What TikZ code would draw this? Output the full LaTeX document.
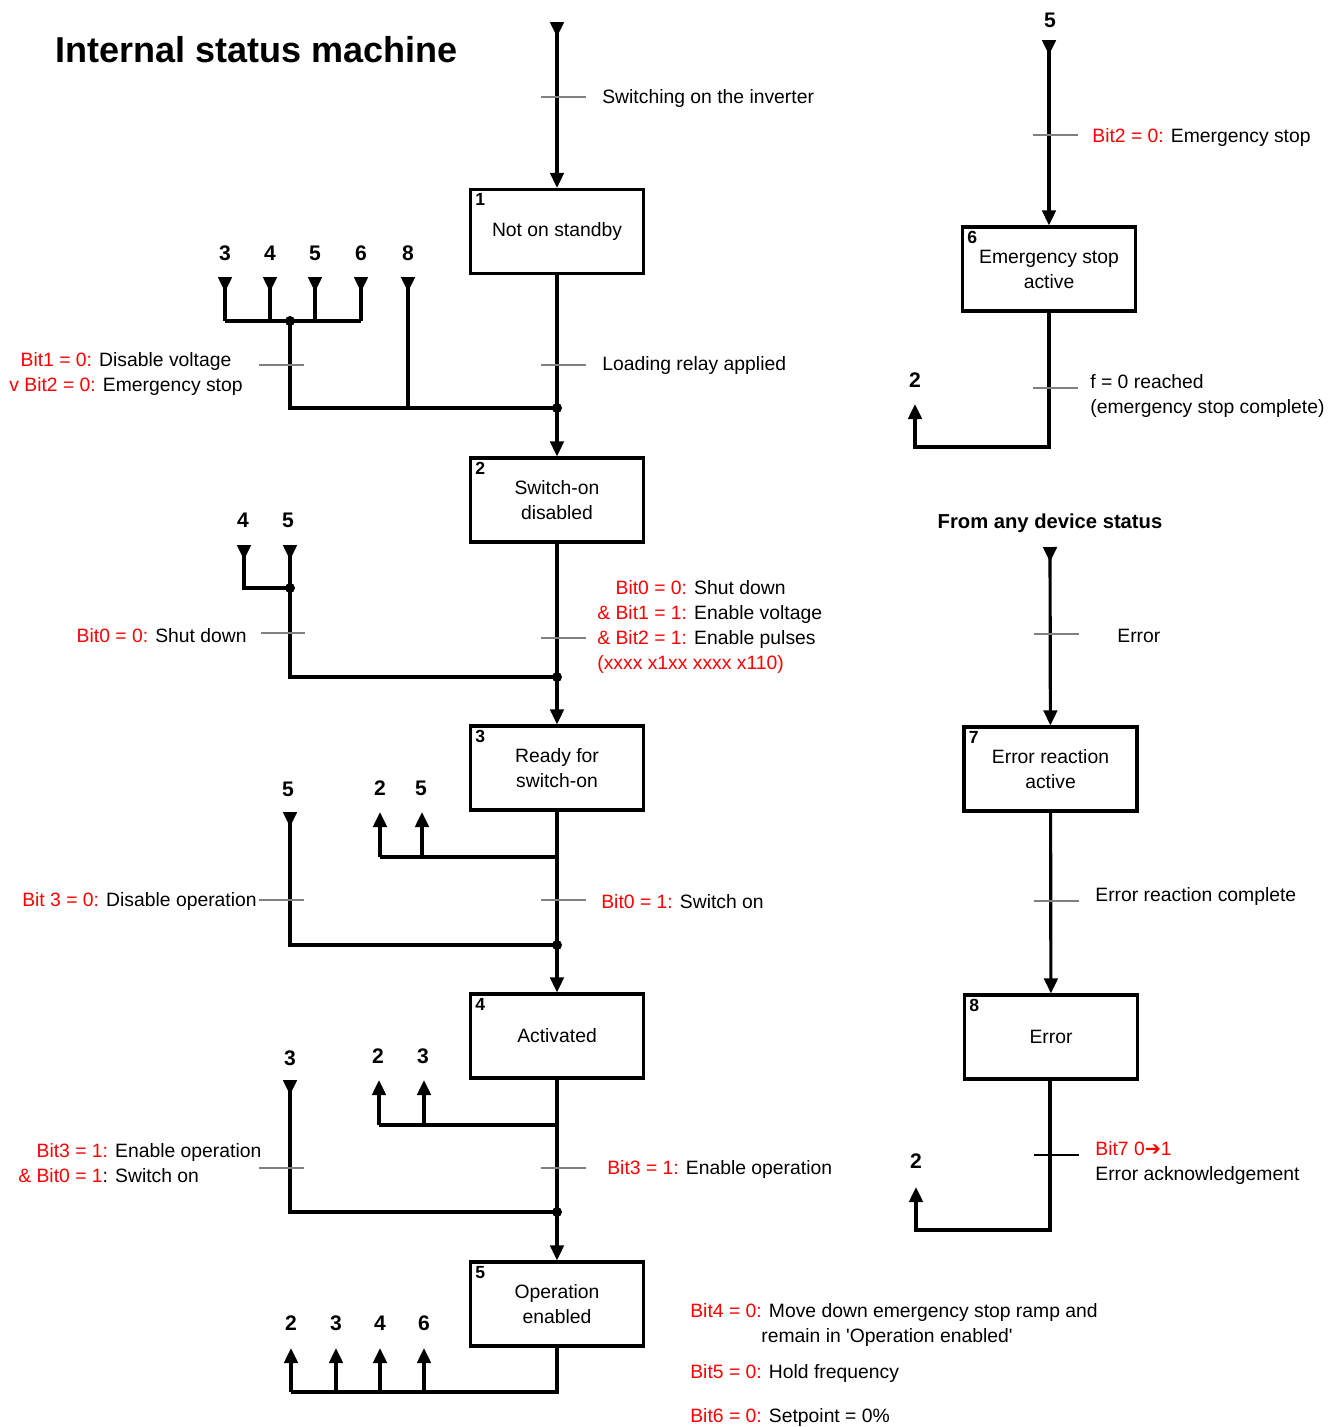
\documentclass[tikz,border=0pt]{standalone}
\usepackage{fontspec}
\setmainfont{Liberation Sans}
\newfontfamily\dejavu{DejaVu Sans}
\usetikzlibrary{arrows.meta}
\definecolor{rd}{RGB}{255,0,0}
\newcommand{\rt}[1]{\textcolor{rd}{#1}}
\begin{document}
\begin{tikzpicture}[x=0.02cm,y=-0.02cm,
  font=\fontsize{11}{14.2}\selectfont,
  ln/.style={line width=1.8pt},
  tipin/.style={ln,{Triangle[reversed,length=0.3cm,width=0.27cm]}-},
  tipout/.style={ln,-{Triangle[length=0.3cm,width=0.27cm]}},
  tipboth/.style={ln,{Triangle[reversed,length=0.3cm,width=0.27cm]}-{Triangle[length=0.3cm,width=0.27cm]}},
  state/.style={draw,line width=1.8pt,minimum width=3.46cm,minimum height=1.68cm,align=center,inner sep=2pt,
    label={[anchor=north west,inner sep=3pt,xshift=0.5pt,font=\fontsize{10}{11}\bfseries\selectfont]north west:#1}},
  bar/.style={gray,line width=0.6pt},
  num/.style={font=\fontsize{12}{14}\bfseries\selectfont,inner sep=0pt},
  dot/.style={circle,fill,inner sep=0pt,minimum size=0.2cm},
  lbl/.style={anchor=west,align=left,inner sep=0pt,yshift=-1pt},
  lbr/.style={anchor=east,align=right,inner sep=0pt,yshift=-1pt}]
\useasboundingbox (0,0) rectangle (1340,1427);

% title
\node[anchor=west,inner sep=0pt,font=\fontsize{20.5}{24}\bfseries\selectfont] (title) at (55,50) {Internal status machine};

% states
\node[state=1] (s1) at (557,231.5) {Not on standby};
\node[state=2] (s2) at (557,500) {Switch-on\\disabled};
\node[state=3] (s3) at (557,768) {Ready for\\switch-on};
\node[state=4] (s4) at (557,1036) {Activated};
\node[state=5] (s5) at (557,1304) {Operation\\enabled};
\node[state=6] (s6) at (1049,269) {Emergency stop\\active};
\node[state=7] (s7) at (1050.5,769) {Error reaction\\active};
\node[state=8] (s8) at (1051,1037) {Error};

% main vertical chain
\coordinate (top) at (557,22);
\draw[tipboth] (top) -- (s1);
\draw[tipout] (s1) -- (s2);
\draw[tipout] (s2) -- (s3);
\draw[tipout] (s3) -- (s4);
\draw[tipout] (s4) -- (s5);

% junction dots on the main line
\node[dot] (j1) at (557,408) {};
\node[dot] (j2) at (557,677) {};
\node[dot] (j3) at (557,945) {};
\node[dot] (j4) at (557,1212) {};

% transition bars, main line
\draw[bar] (541,97) -- (586,97);
\draw[bar] (541,365) -- (586,365);
\draw[bar] (541,638) -- (586,638);
\draw[bar] (541,900) -- (586,900);
\draw[bar] (541,1168) -- (586,1168);

% ---- branch into state 2 (from 3,4,5,6,8)
\node[num] (n3a) at (225,253) {3};
\node[num] (n4a) at (270,253) {4};
\node[num] (n5a) at (315,253) {5};
\node[num] (n6a) at (361,253) {6};
\node[num] (n8a) at (408,253) {8};
\coordinate (a3) at (225,277); \coordinate (a4) at (270,277);
\coordinate (a5) at (315,277); \coordinate (a6) at (361,277);
\coordinate (a8) at (408,277);
\coordinate (h1l) at (225,321); \coordinate (h1r) at (361,321);
\node[dot] (d1) at (290,321) {};
\draw[ln] (h1l) -- (h1r);
\draw[tipin] (a3) -- (h1l);
\draw[tipin] (a4) -- (270,321);
\draw[tipin] (a5) -- (315,321);
\draw[tipin] (a6) -- (h1r);
\draw[ln] (d1.center) -- (290,408) -- (j1.center);
\draw[tipin] (a8) -- (408,408);
\draw[bar] (259,365) -- (304,365);

% ---- branch into state 3 (from 4,5)
\node[num] (n4b) at (243,520) {4};
\node[num] (n5b) at (288,520) {5};
\coordinate (b4) at (244,545); \coordinate (b5) at (290,545);
\node[dot] (d2) at (290,588) {};
\draw[tipin] (b4) -- (244,588) -- (d2.center);
\draw[tipin] (b5) -- (290,677) -- (j2.center);
\draw[bar] (261,633) -- (305,633);

% ---- state 3 outgoing to 2,5
\coordinate (o3) at (557,857);
\draw[ln] (o3) -- (380,857);
\draw[tipout] (380,857) -- (380,812);
\draw[tipout] (422,857) -- (422,812);
\node[num] (n2c) at (380,788) {2};
\node[num] (n5c) at (421,788) {5};
% branch into state 4 from 5
\node[num] (n5d) at (288,789) {5};
\coordinate (c5) at (290,812);
\draw[tipin] (c5) -- (290,945) -- (j3.center);
\draw[bar] (259,900) -- (304,900);

% ---- state 4 outgoing to 2,3
\coordinate (o4) at (557,1125);
\draw[ln] (o4) -- (379,1125);
\draw[tipout] (379,1125) -- (379,1080);
\draw[tipout] (424,1125) -- (424,1080);
\node[num] (n2e) at (378,1056) {2};
\node[num] (n3e) at (423,1056) {3};
% branch into state 5 from 3
\node[num] (n3f) at (290,1058) {3};
\coordinate (f3) at (290,1080);
\draw[tipin] (f3) -- (290,1212) -- (j4.center);
\draw[bar] (259,1168) -- (304,1168);

% ---- state 5 outgoing to 2,3,4,6
\coordinate (o5) at (557,1392);
\draw[ln] (s5) -- (o5) -- (291,1392);
\draw[tipout] (291,1392) -- (291,1348);
\draw[tipout] (336,1392) -- (336,1348);
\draw[tipout] (380,1392) -- (380,1348);
\draw[tipout] (424,1392) -- (424,1348);
\node[num] (n2g) at (291,1323) {2};
\node[num] (n3g) at (336,1323) {3};
\node[num] (n4g) at (380,1323) {4};
\node[num] (n6g) at (424,1323) {6};

% ---- labels left column
\node[lbl] (l1) at (602,97) {Switching on the inverter};
\node[lbl] (l2) at (602,364) {Loading relay applied};
\node[align=center,inner sep=0pt,yshift=-1pt] (l3) at (126,372) {\rt{Bit1 = 0:} Disable voltage\\ \rt{v Bit2 = 0:} Emergency stop};
\node[lbl] (l4) at (597,625.5) {\hphantom{\& }\rt{Bit0 = 0:} Shut down\\ \rt{\& Bit1 = 1:} Enable voltage\\ \rt{\& Bit2 = 1:} Enable pulses\\ \rt{(xxxx x1xx xxxx x110)}};
\node[lbr] (l5) at (247,634) {\rt{Bit0 = 0:} Shut down};
\node[lbl] (l6) at (601,900) {\rt{Bit0 = 1:} Switch on};
\node[lbr] (l7) at (257,900) {\rt{Bit 3 = 0:} Disable operation};
\node[lbl] (l8) at (607,1168) {\rt{Bit3 = 1:} Enable operation};
\node[lbl] (l9) at (18,1161) {\hphantom{\& }\rt{Bit3 = 1:} Enable operation\\ \rt{\& Bit0 = 1}: Switch on};
\node[lbl] (l10) at (690,1311) {\rt{Bit4 = 0:} Move down emergency stop ramp and};
\node[lbl] (l11) at (761,1336) {remain in \textquotesingle Operation enabled\textquotesingle};
\node[lbl] (l12) at (690,1372) {\rt{Bit5 = 0:} Hold frequency};
\node[lbl] (l13) at (690,1416) {\rt{Bit6 = 0:} Setpoint = 0\%};

% ---- right column: emergency stop
\node[num] (n5r) at (1050,20) {5};
\coordinate (r5) at (1049,40);
\draw[tipboth] (r5) -- (s6);
\draw[bar] (1033,135) -- (1078,135);
\node[lbl] (l14) at (1092,136) {\rt{Bit2 = 0:} Emergency stop};
\coordinate (r6a) at (1049,447);
\coordinate (r6b) at (915,404);
\draw[tipout] (s6) -- (r6a) -| (r6b);
\node[num] (n2r) at (915,380) {2};
\draw[bar] (1033,388) -- (1078,388);
\node[lbl] (l15) at (1090,394.5) {f = 0 reached\\(emergency stop complete)};

% ---- right column: error
\node[inner sep=0pt,font=\fontsize{11.5}{14}\bfseries\selectfont] (l16) at (1050,523) {From any device status};
\coordinate (r7) at (1050,547);
\draw[tipboth] (r7) -- (s7);
\draw[bar] (1034,634) -- (1079,634);
\node[lbl] (l17) at (1117,634) {Error};
\draw[tipout] (s7) -- (s8);
\draw[bar] (1034,901) -- (1079,901);
\node[lbl] (l18) at (1095,895) {Error reaction complete};
\coordinate (r8a) at (1050,1230);
\coordinate (r8b) at (916,1187);
\draw[tipout] (s8.south -| r8a) -- (r8a) -| (r8b);
\node[num] (n2s) at (916,1161) {2};
\draw[line width=0.6pt] (1034,1155) -- (1079,1155);
\node[lbl] (l19) at (1095,1161) {\rt{Bit7 0{\dejavu ➔}1}\\Error acknowledgement};
\end{tikzpicture}
\end{document}
